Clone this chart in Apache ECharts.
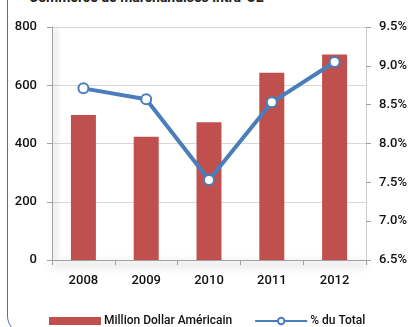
<!DOCTYPE html>
<html>
<head>
<meta charset="utf-8">
<script src="https://cdn.jsdelivr.net/npm/echarts@6/dist/echarts.min.js"></script>
<style>
    html, body { margin: 0; padding: 0; background: #fff; overflow: hidden; }
    #frame {
        position: absolute; left: 7px; top: -30px; width: 440px; height: 364px;
        border: 1.5px solid #4f6fa8; border-radius: 18px; box-sizing: border-box;
    }
    #title {
        position: absolute; left: 29px; top: -11px; font: bold 14px Roboto, sans-serif;
        color: #222; white-space: nowrap;
    }
    #chart { position: absolute; left: 0; top: 0; width: 411px; height: 327px; }
</style>
</head>
<body>
<div id="frame"></div>
<div id="title">Commerce de marchandises intra-UE</div>
<div id="chart"></div>
<script>
    // données
    var years = ['2008', '2009', '2010', '2011', '2012'];
    var montants = [498, 423, 473, 643, 706];
    var pourcents = [8.71, 8.57, 7.53, 8.53, 9.05];
    var leftTicks = [0, 200, 400, 600, 800];
    var rightTicks = [6.5, 7.0, 7.5, 8.0, 8.5, 9.0, 9.5];

    var police = 'Roboto, sans-serif';
    var lbl = { fontFamily: police, fontSize: 13, fontWeight: 500, color: '#111' };

    var chart = echarts.init(document.getElementById('chart'));
    chart.setOption({
        animation: false,
        grid: { left: 52, right: 45, top: 27, bottom: 67 },
        legend: {
            left: 44, top: 310,
            itemGap: 22,
            textStyle: { fontFamily: police, fontSize: 12, fontWeight: 500, color: '#111', padding: [0, 0, 0, -2] },
            data: [
                { name: 'Million Dollar Américain', icon: 'rect', itemWidth: 52, itemHeight: 7 },
                { name: '% du Total', itemWidth: 54, itemHeight: 10 }
            ],
            itemWidth: 52, itemHeight: 8
        },
        xAxis: {
            type: 'category',
            data: years,
            axisLine: { lineStyle: { color: '#a0a0a0', width: 1, shadowColor: 'rgba(0,0,0,0.6)', shadowBlur: 8, shadowOffsetY: 4 } },
            axisTick: { show: true, length: 5, lineStyle: { color: '#a0a0a0' } },
            axisLabel: Object.assign({ margin: 14 }, lbl)
        },
        yAxis: [
            {
                type: 'value', min: leftTicks[0], max: leftTicks[leftTicks.length - 1], interval: 200,
                axisLine: { show: true, lineStyle: { color: '#a0a0a0', shadowColor: 'rgba(0,0,0,0.35)', shadowBlur: 5, shadowOffsetX: 3 } },
                axisTick: { show: true, length: 5, lineStyle: { color: '#a0a0a0' } },
                axisLabel: Object.assign({ margin: 15 }, lbl),
                splitLine: { lineStyle: { color: '#d9d9d9' } }
            },
            {
                type: 'value', min: rightTicks[0], max: rightTicks[rightTicks.length - 1], interval: 0.5,
                position: 'right',
                axisLine: { show: true, lineStyle: { color: '#d0d0d0' } },
                axisTick: { show: true, length: 5, lineStyle: { color: '#a0a0a0' } },
                axisLabel: Object.assign({ margin: 13,
                    formatter: function (v) { return v.toFixed(1) + '%'; } }, lbl),
                splitLine: { show: false }
            }
        ],
        series: [
            {
                name: 'Million Dollar Américain',
                type: 'bar',
                data: montants,
                barWidth: 25,
                itemStyle: { color: '#c0504d' }
            },
            {
                name: '% du Total',
                type: 'line',
                yAxisIndex: 1,
                data: pourcents,
                symbol: 'circle',
                symbolSize: 10,
                lineStyle: { color: '#4a7ebb', width: 4 },
                itemStyle: { color: '#fff', borderColor: '#4a7ebb', borderWidth: 2 }
            }
        ]
    });
</script>
</body>
</html>
